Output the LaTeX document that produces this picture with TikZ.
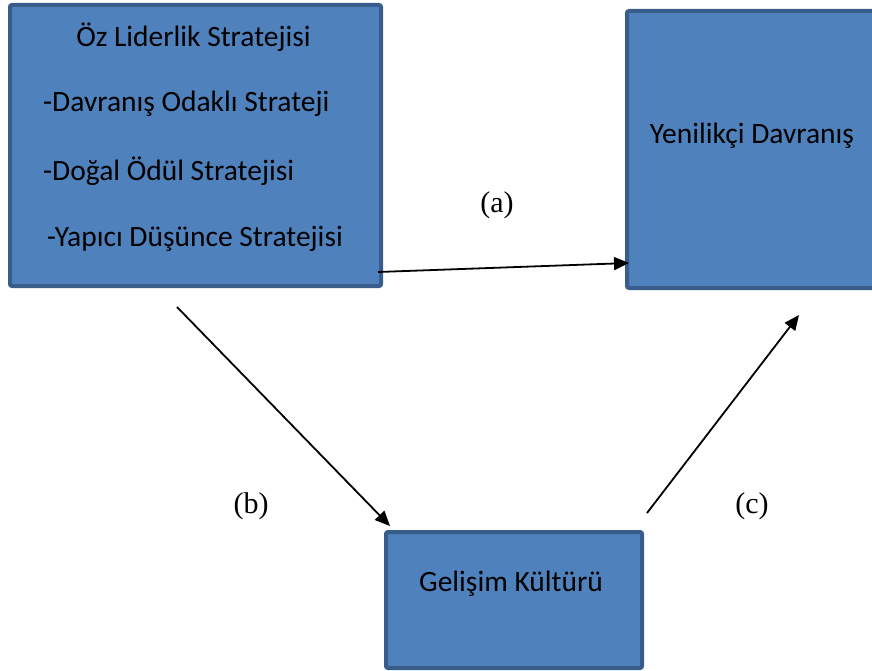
\documentclass[tikz,border=0pt]{standalone}
\usepackage{fontspec}
\setmainfont{Carlito}
\newfontfamily\labelfont{Liberation Serif}
\usetikzlibrary{arrows.meta}
\definecolor{boxfill}{HTML}{4F81BD}
\definecolor{boxline}{HTML}{385D8A}
\tikzset{
  bluebox/.style={draw=boxline, fill=boxfill, line width=4pt, rounded corners=2pt, inner sep=0pt, anchor=north west},
  boxtext/.style={font=\fontsize{29.5}{34}\selectfont, inner sep=0pt},
  lbl/.style={font=\labelfont\fontsize{30}{34}\selectfont, inner sep=0pt},
  conn/.style={line width=1.8pt, -{Triangle[length=15pt,width=13pt]}}
}
\begin{document}
\begin{tikzpicture}[x=1pt,y=-1pt]
\useasboundingbox (0,0) rectangle (872,671);
\clip (0,0) rectangle (872,671);
% boxes
\node[bluebox, minimum width=371pt, minimum height=281pt] (L) at (8,3) {};
\node[bluebox, minimum width=260pt, minimum height=277pt] (R) at (625,9) {};
\node[bluebox, minimum width=256pt, minimum height=136pt] (G) at (384,530) {};
% texts
\node[boxtext] (t1) at (193.5,37) {Öz Liderlik Stratejisi};
\node[boxtext, anchor=west] (t2) at (43,104) {-Davranış Odaklı Strateji};
\node[boxtext, anchor=west] (t3) at (43,171) {-Doğal Ödül Stratejisi};
\node[boxtext, anchor=west] (t4) at (47,239) {-Yapıcı Düşünce Stratejisi};
\node[boxtext] (t5) at (752,136) {Yenilikçi Davranış};
\node[boxtext] (t6) at (511,584) {Gelişim Kültürü};
% labels
\node[lbl] (la) at (497,205) {(a)};
\node[lbl] (lb) at (251,506) {(b)};
\node[lbl] (lc) at (752,506) {(c)};
% connector ends
\coordinate (a0) at (378,272);
\coordinate (a1) at (629,263);
\coordinate (b0) at (177,307);
\coordinate (b1) at (390,526);
\coordinate (c0) at (647,513);
\coordinate (c1) at (799,315);
\draw[conn] (a0) -- (a1);
\draw[conn] (b0) -- (b1);
\draw[conn] (c0) -- (c1);
\end{tikzpicture}
\end{document}
